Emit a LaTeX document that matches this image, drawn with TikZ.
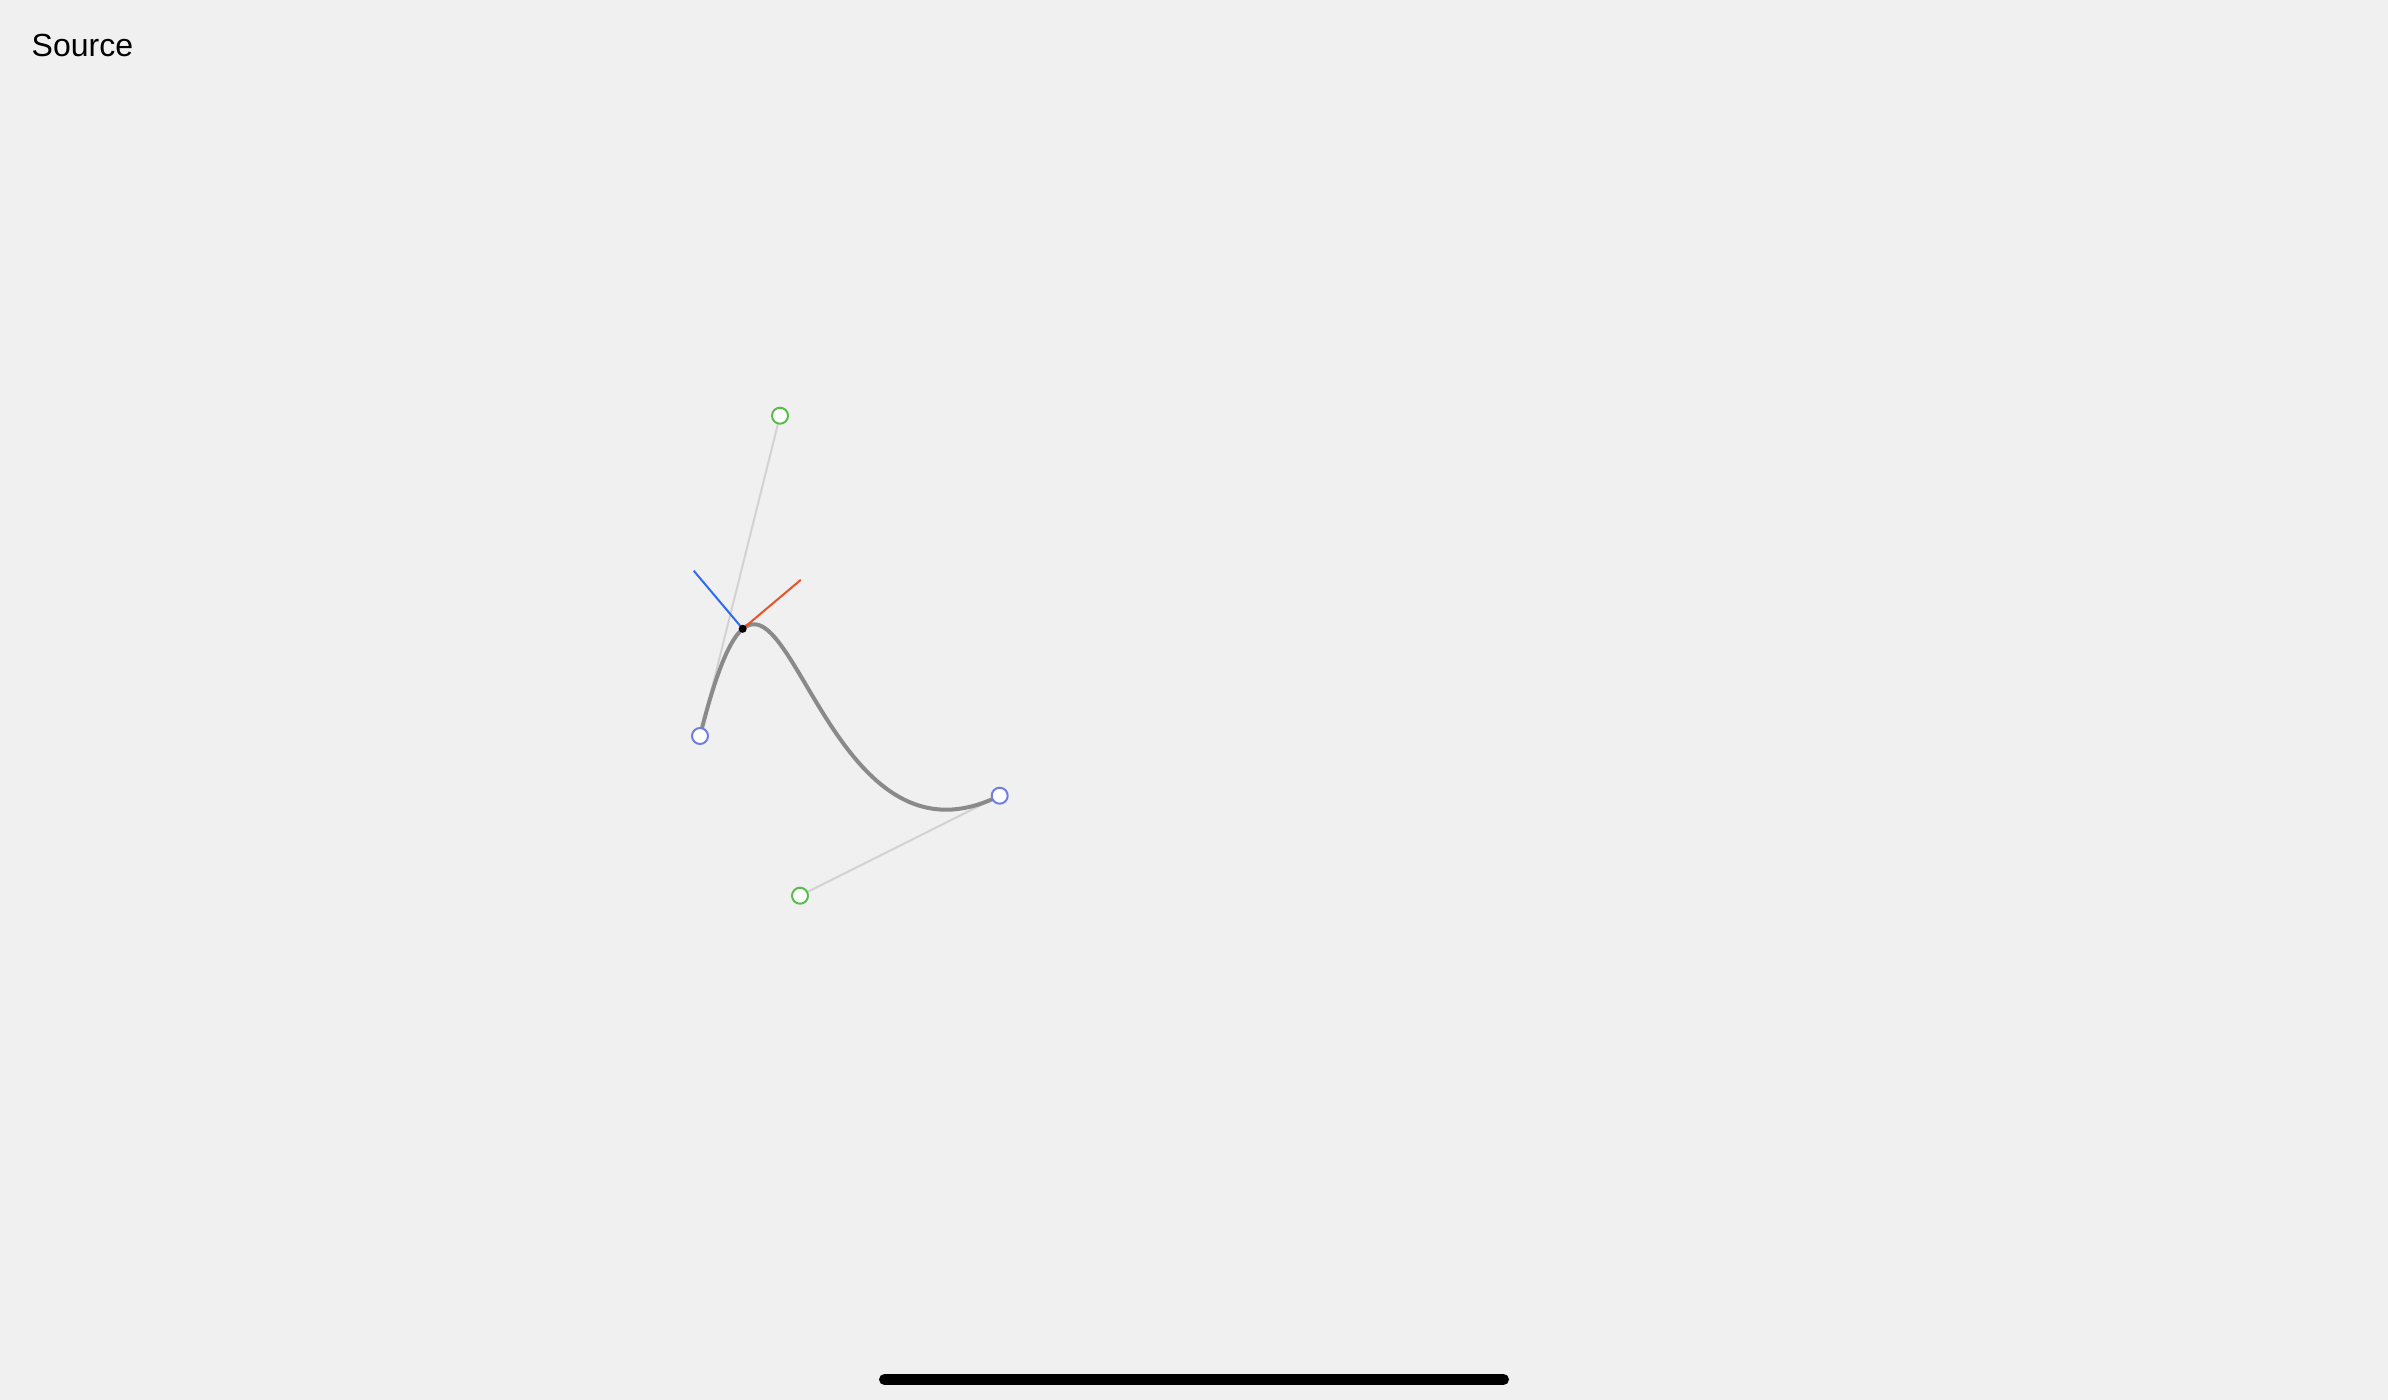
\documentclass[tikz,border=0pt]{standalone}
\usepackage{fontspec}
\setmainfont{Liberation Sans}
\definecolor{bg}{HTML}{F0F0F0}
\definecolor{curvegray}{HTML}{8A8A8A}
\definecolor{handlegray}{HTML}{D2D2D2}
\definecolor{anchorblue}{HTML}{6F7FE0}
\definecolor{ctrlgreen}{HTML}{58BE4A}
\definecolor{normblue}{HTML}{2F6BF0}
\definecolor{tanred}{HTML}{E8532C}
\tikzset{
  anchorpt/.style={circle,draw=anchorblue,fill=white,line width=2pt,minimum size=16pt,inner sep=0pt},
  ctrlpt/.style={circle,draw=ctrlgreen,fill=white,line width=2pt,minimum size=16pt,inner sep=0pt},
  handle/.style={draw=handlegray,line width=2pt},
  bezier/.style={draw=curvegray,line width=4pt},
  tangentline/.style={draw=tanred,line width=2pt},
  normalline/.style={draw=normblue,line width=2pt},
  dotpt/.style={circle,fill=black,minimum size=8pt,inner sep=0pt},
  label/.style={anchor=base west,inner sep=0pt,font=\fontsize{32}{38}\selectfont}
}
\begin{document}
\begin{tikzpicture}[x=1pt,y=-1pt]
\fill[bg] (0,0) rectangle (2388,1400);
\useasboundingbox (0,0) rectangle (2388,1400);
\node[label] (title) at (31.5,56) {Source};
\coordinate (p0) at (700,736);
\coordinate (c1) at (780,415.7);
\coordinate (c2) at (800,895.7);
\coordinate (p3) at (999.7,795.7);
\coordinate (pt) at (742.7,628.8);
\coordinate (tanend) at (800.8,579.8);
\coordinate (normend) at (693.7,570.7);
\draw[handle] (p0) -- (c1);
\draw[handle] (p3) -- (c2);
\draw[bezier] (p0) .. controls (c1) and (c2) .. (p3);
\draw[normalline] (pt) -- (normend);
\draw[tangentline] (pt) -- (tanend);
\node[dotpt] (dot) at (pt) {};
\node[anchorpt] (a0) at (p0) {};
\node[anchorpt] (a3) at (p3) {};
\node[ctrlpt] (k1) at (c1) {};
\node[ctrlpt] (k2) at (c2) {};
\coordinate (barl) at (884.5,1379.5);
\coordinate (barr) at (1503.5,1379.5);
\draw[line width=11pt,line cap=round] (barl) -- (barr);
\end{tikzpicture}
\end{document}
